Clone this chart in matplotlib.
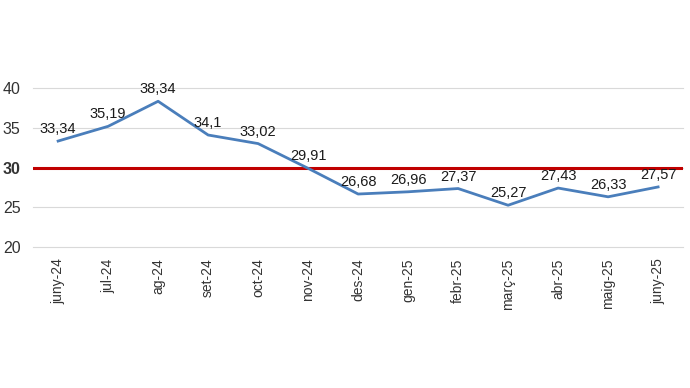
import matplotlib
matplotlib.use("Agg")
import matplotlib.pyplot as plt

plt.rcParams['font.family'] = ['Liberation Sans', 'DejaVu Sans']

months = ['juny-24', 'jul-24', 'ag-24', 'set-24', 'oct-24', 'nov-24', 'des-24',
          'gen-25', 'febr-25', 'març-25', 'abr-25', 'maig-25', 'juny-25']
values = [33.34, 35.19, 38.34, 34.1, 33.02, 29.91, 26.68,
          26.96, 27.37, 25.27, 27.43, 26.33, 27.57]
labels = ['33,34', '35,19', '38,34', '34,1', '33,02', '29,91', '26,68',
          '26,96', '27,37', '25,27', '27,43', '26,33', '27,57']
threshold = 30
yticks = [20, 25, 30, 35, 40]

fig = plt.figure(figsize=(6.9, 3.88), dpi=100)
ax = fig.add_axes([0.048, 0.363, 0.942, 0.41])

x = list(range(len(months)))
ax.set_xlim(-0.5, len(months) - 0.5)
ax.set_ylim(20, 40)
ax.axhline(threshold, color='#c00000', lw=2.2, zorder=3)
ax.plot(x, values, color='#4a7ebb', lw=2, zorder=4)
for xi, v, lab in zip(x, values, labels):
    ax.annotate(lab, (xi, v), xytext=(0, 3.5), textcoords='offset points',
                ha='center', va='bottom', fontsize=10.5, color='#1a1a1a',
                zorder=5)

ax.set_yticks(yticks)
ax.set_yticklabels([str(t) for t in yticks])
for t in ax.get_yticklabels():
    if t.get_text() == str(threshold):
        t.set_color('#c00000')
        t.set_fontweight('bold')
ax.set_xticks(x)
ax.set_xticklabels(months, rotation=90)
ax.tick_params(axis='both', length=0, colors='#333333')
ax.tick_params(axis='x', labelsize=10, pad=8)
ax.tick_params(axis='y', labelsize=11.5, pad=9)
ax.grid(axis='y', color='#d9d9d9', lw=0.8)
for gl in ax.get_ygridlines():
    gl.set_clip_on(False)
ax.set_axisbelow(True)
for s in ax.spines.values():
    s.set_visible(False)

fig.savefig('out.png', dpi=100)
